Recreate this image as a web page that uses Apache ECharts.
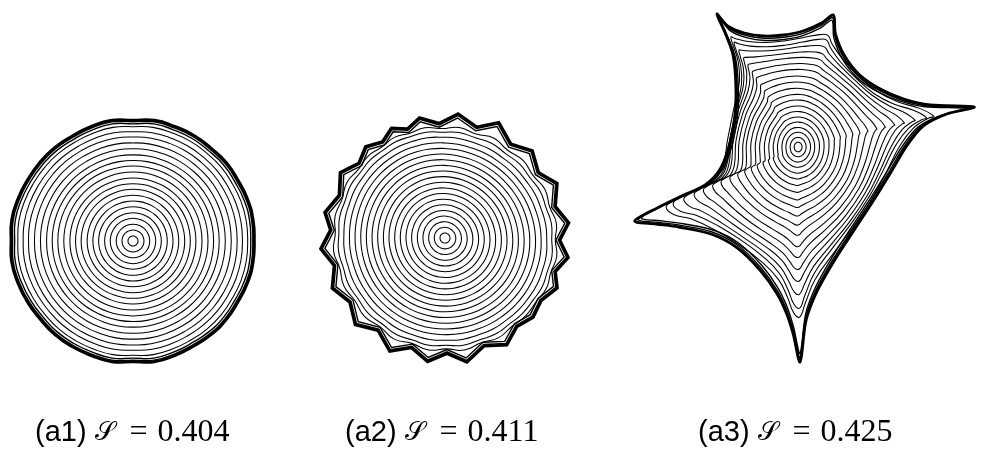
<!DOCTYPE html>
<html>
<head>
<meta charset="utf-8">
<script src="https://cdn.jsdelivr.net/npm/echarts@6/dist/echarts.min.js"></script>
<style>
  html, body { margin: 0; padding: 0; background: #fff; }
  #chart { width: 984px; height: 450px; }
</style>
</head>
<body>
<div id="chart"></div>
<script>
// Panel captions and the S value printed under each panel
const panelTags = ['(a1)', '(a2)', '(a3)'];
const sValues = ['0.404', '0.411', '0.425'];

// (a1) disc: boundary radius every 10 degrees (0, 10, ..., 350), counter-clockwise
const discBoundaryR = [
  0.995, 1.0, 1.0, 0.995, 1.0, 0.995, 1.0, 1.0, 1.005,
  0.99, 1.005, 1.0, 0.995, 1.0, 1.0, 1.0, 1.005, 1.01,
  1.0, 1.01, 1.005, 1.0, 0.995, 1.0, 1.0, 1.0, 1.005,
  0.99, 1.005, 1.0, 0.995, 1.0, 1.0, 0.995, 1.0, 1.0
];
// (a1) contour levels, as a fraction of the way from the centre to the boundary
const discLevels = [
  0.041, 0.09, 0.137, 0.186, 0.232, 0.281, 0.328, 0.375, 0.424, 0.47,
  0.516, 0.566, 0.615, 0.661, 0.707, 0.757, 0.806, 0.855, 0.899, 0.943,
  0.97, 0.987, 1.0
];

// (a2) toothed disc: boundary vertices as [angle in degrees, radius]
const gearBoundary = [
  [7, 1.0], [16, 0.92], [26, 1.0], [35, 0.915], [45, 0.99], [55, 0.92],
  [65, 1.02], [74, 0.925], [84, 1.0], [93, 0.92], [102, 0.985], [109, 0.925],
  [116, 0.98], [123, 0.92], [131, 0.97], [139, 0.915], [148, 0.99], [158, 0.915],
  [168, 0.985], [176, 0.92], [185, 1.0], [194, 0.915], [204, 0.99], [214, 0.92],
  [224, 1.0], [234, 0.915], [244, 1.01], [253, 0.92], [262, 1.0], [271, 0.925],
  [280, 1.01], [290, 0.92], [300, 0.99], [309, 0.915], [318, 0.95], [327, 0.92],
  [336, 0.985], [343, 0.925], [351, 1.0], [359, 0.92]
];
const gearLevels = [
  0.042, 0.09, 0.137, 0.185, 0.232, 0.28, 0.327, 0.375, 0.422, 0.47,
  0.517, 0.565, 0.612, 0.66, 0.707, 0.755, 0.802, 0.85, 0.895, 0.93,
  0.965, 0.985, 1.0
];

// (a3) five-armed star: boundary vertices [x, y]
const starBoundary = [
  [-0.83, 1.33], [-0.72, 1.21], [-0.55, 1.14], [-0.35, 1.11], [-0.15, 1.12],
  [0.05, 1.16], [0.24, 1.24], [0.36, 1.32], [0.38, 1.14], [0.47, 0.92],
  [0.63, 0.72], [0.84, 0.58], [1.08, 0.48], [1.35, 0.42], [1.80, 0.40],
  [1.52, 0.33], [1.28, 0.21], [1.11, 0.01], [0.95, -0.25], [0.78, -0.52],
  [0.58, -0.82], [0.38, -1.12], [0.19, -1.45], [0.08, -1.74], [0.02, -2.15],
  [-0.05, -1.87], [-0.12, -1.66], [-0.22, -1.46], [-0.39, -1.23], [-0.62, -1.01],
  [-0.89, -0.87], [-1.22, -0.80], [-1.45, -0.77], [-1.67, -0.74], [-1.42, -0.60],
  [-1.19, -0.49], [-0.95, -0.38], [-0.79, -0.21], [-0.69, 0.07], [-0.64, 0.37],
  [-0.64, 0.70], [-0.67, 0.94], [-0.75, 1.15]
];
// (a3) rounded core the innermost levels follow: semi-axes along x and y
const starCore = [0.8, 0.95];
const starLevels = [
  0.05, 0.1, 0.152, 0.2, 0.252, 0.3, 0.35, 0.4, 0.452, 0.5,
  0.55, 0.6, 0.648, 0.7, 0.745, 0.79, 0.83, 0.87, 0.905, 0.935,
  0.96, 0.98, 1.0
];

// ---- geometry helpers ----
const EDGE_BAND = 0.96;

function polarToXY(list) {
  return list.map(([deg, r]) => [r * Math.cos(deg * Math.PI / 180), r * Math.sin(deg * Math.PI / 180)]);
}
function meanRadius(pts) {
  return pts.reduce((s, p) => s + Math.hypot(p[0], p[1]), 0) / pts.length;
}
// Relax a closed outline towards a rounded core shape (neighbour averaging),
// then centre it on the origin and give it the outline's mean radius.
function relaxLoop(pts, passes) {
  const n = pts.length;
  let cur = pts.map(p => p.slice());
  for (let k = 0; k < passes; k++) {
    cur = cur.map((p, i) => {
      const a = cur[(i + n - 1) % n], b = cur[(i + 1) % n];
      return [0.5 * p[0] + 0.25 * (a[0] + b[0]), 0.5 * p[1] + 0.25 * (a[1] + b[1])];
    });
  }
  const cx = cur.reduce((s, p) => s + p[0], 0) / n;
  const cy = cur.reduce((s, p) => s + p[1], 0) / n;
  cur = cur.map(p => [p[0] - cx, p[1] - cy]);
  const f = meanRadius(pts) / meanRadius(cur);
  return cur.map(p => [p[0] * f, p[1] * f]);
}
// Nested level curves: rounded core near the centre, boundary shape at the edge
function contourRings(boundary, core, levels, power) {
  return levels.map(t => {
    const w = t >= EDGE_BAND ? 1 : Math.pow(t, power);
    return boundary.map((b, j) => [
      t * ((1 - w) * core[j][0] + w * b[0]),
      t * ((1 - w) * core[j][1] + w * b[1])
    ]);
  });
}
// Level curves that stay on the rays through the boundary vertices: the
// boundary radius is softened more the deeper the level, so the arms only
// pull the curves outwards close to the edge.
function radialRings(boundary, axes, levels, power, maxPasses) {
  const n = boundary.length;
  const dirs = boundary.map(([x, y]) => Math.atan2(y, x));
  const radii = boundary.map(([x, y]) => Math.hypot(x, y));
  const core = dirs.map(th => {
    const c = Math.cos(th), s = Math.sin(th);
    return 1 / Math.sqrt((c * c) / (axes[0] * axes[0]) + (s * s) / (axes[1] * axes[1]));
  });
  const softened = [radii];
  for (let k = 1; k <= maxPasses; k++) {
    const prev = softened[k - 1];
    softened.push(prev.map((r, i) => 0.5 * r + 0.25 * (prev[(i + n - 1) % n] + prev[(i + 1) % n])));
  }
  return levels.map(t => {
    if (t >= EDGE_BAND) return boundary.map(([x, y]) => [t * x, t * y]);
    const w = Math.pow(t, power);
    const soft = softened[Math.min(maxPasses, Math.round(maxPasses * (1 - t)))];
    return dirs.map((th, j) => {
      const r = t * ((1 - w) * core[j] + w * soft[j]);
      return [r * Math.cos(th), r * Math.sin(th)];
    });
  });
}

const discOutline = polarToXY(discBoundaryR.map((r, i) => [i * 10, r]));
const gearOutline = polarToXY(gearBoundary);

const panels = [
  { rings: contourRings(discOutline, relaxLoop(discOutline, 20), discLevels, 8), levels: discLevels, edgeSmooth: 0.5, innerSmooth: 0.5 },
  { rings: contourRings(gearOutline, relaxLoop(gearOutline, 40), gearLevels, 18), levels: gearLevels, edgeSmooth: 0, innerSmooth: 0.5 },
  { rings: radialRings(starBoundary, starCore, starLevels, 1.4, 24), levels: starLevels, edgeSmooth: 0.3, innerSmooth: 0.45 }
];

function ringSeries(panel, idx) {
  return {
    type: 'custom',
    coordinateSystem: 'cartesian2d',
    xAxisIndex: idx,
    yAxisIndex: idx,
    silent: true,
    clip: false,
    animation: false,
    data: panel.levels.map(t => [0, 0, t]),
    renderItem: (params, api) => {
      const k = params.dataIndex;
      const t = panel.levels[k];
      const pts = panel.rings[k].map(p => api.coord(p));
      const lw = t >= 1 ? 2.8 : (t >= EDGE_BAND ? 1.4 : 1.05);
      return {
        type: 'polygon',
        shape: { points: pts, smooth: t >= EDGE_BAND ? panel.edgeSmooth : panel.innerSmooth },
        style: { fill: 'none', stroke: '#000', lineWidth: lw }
      };
    }
  };
}

// Each panel gets its own square-unit grid
const grids = [
  { left: 4.9, top: 112.9, width: 256.2, height: 256.2 },
  { left: 307.5, top: 100.5, width: 275, height: 275 },
  { left: 622, top: 2, width: 370, height: 365 }
];
const ranges = [
  { x: [-1.05, 1.05], y: [-1.05, 1.05] },
  { x: [-1.1, 1.1], y: [-1.1, 1.1] },
  { x: [-1.8, 1.9], y: [-2.2, 1.45] }
];

const captionLeft = [35, 345, 698];
const plain = { color: '#000', fontWeight: 'normal', lineHeight: 36 };

const chart = echarts.init(document.getElementById('chart'), null, { renderer: 'canvas' });
chart.setOption({
  backgroundColor: '#fff',
  animation: false,
  grid: grids,
  xAxis: ranges.map((r, i) => ({ type: 'value', gridIndex: i, min: r.x[0], max: r.x[1], show: false })),
  yAxis: ranges.map((r, i) => ({ type: 'value', gridIndex: i, min: r.y[0], max: r.y[1], show: false })),
  title: panelTags.map((tag, i) => ({
    text: '{tag|' + tag + '}{s|\u{1D4AE}}{eq|=}{num|' + sValues[i] + '}',
    left: captionLeft[i],
    top: 415,
    padding: 0,
    textStyle: {
      fontWeight: 'normal',
      rich: {
        tag: Object.assign({ fontFamily: 'Liberation Sans', fontSize: 29 }, plain),
        s: Object.assign({ fontFamily: 'DejaVu Serif', fontSize: 26, padding: [0, 15, 0, 8] }, plain),
        eq: Object.assign({ fontFamily: 'Liberation Serif', fontSize: 32, padding: [0, 10, 0, 0] }, plain),
        num: Object.assign({ fontFamily: 'Liberation Serif', fontSize: 32 }, plain)
      }
    }
  })),
  series: panels.map((p, i) => ringSeries(p, i))
});
</script>
</body>
</html>
